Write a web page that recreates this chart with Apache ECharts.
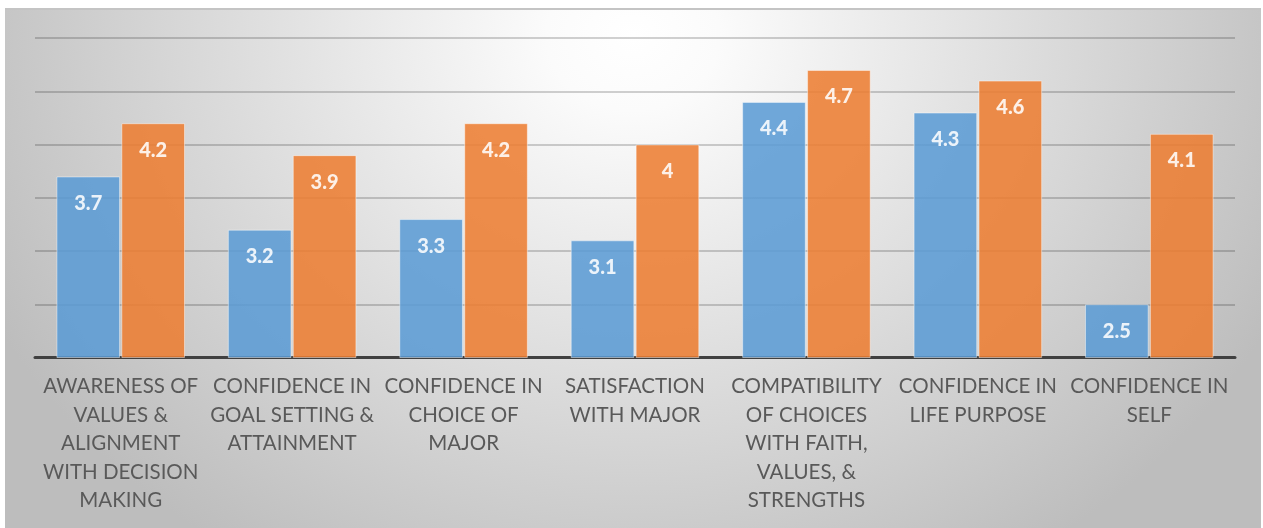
<!DOCTYPE html>
<html>
<head>
<meta charset="utf-8">
<script src="https://cdn.jsdelivr.net/npm/echarts@6/dist/echarts.min.js"></script>
<style>
  html, body { margin: 0; padding: 0; background: #ffffff; width: 1263px; height: 528px; overflow: hidden; }
  #frame { position: absolute; left: 5px; top: 8px; width: 1256px; height: 520px;
    border-top: 2px solid #c4c4c4; box-sizing: border-box;
    background: radial-gradient(ellipse 720px 620px at 50% 5%, #ffffff 0%, #fbfbfb 12%, #bdbdbd 100%); }
  #chart { position: absolute; left: 0; top: 0; width: 1263px; height: 528px; }
</style>
</head>
<body>
<div id="frame"></div>
<div id="chart"></div>
<script>
const categories = [
  "AWARENESS OF\nVALUES &\nALIGNMENT\nWITH DECISION\nMAKING",
  "CONFIDENCE IN\nGOAL SETTING &\nATTAINMENT",
  "CONFIDENCE IN\nCHOICE OF\nMAJOR",
  "SATISFACTION\nWITH MAJOR",
  "COMPATIBILITY\nOF CHOICES\nWITH FAITH,\nVALUES, &\nSTRENGTHS",
  "CONFIDENCE IN\nLIFE PURPOSE",
  "CONFIDENCE IN\nSELF"
];
const seriesBlue = [3.7, 3.2, 3.3, 3.1, 4.4, 4.3, 2.5];
const seriesOrange = [4.2, 3.9, 4.2, 4.0, 4.7, 4.6, 4.1];

const chart = echarts.init(document.getElementById('chart'), null, { renderer: 'canvas' });

const labelStyle = {
  show: true,
  position: 'insideTop',
  distance: 17,
  color: '#ffffff',
  fontFamily: 'Lato',
  fontWeight: 900,
  fontSize: 20
};

chart.setOption({
  backgroundColor: 'transparent',
  animation: false,
  grid: { left: 35, right: 28, top: 38, bottom: 170.5, containLabel: false },
  xAxis: {
    type: 'category',
    data: categories,
    axisLine: { show: true, lineStyle: { color: '#404040', width: 3 } },
    axisTick: { show: false },
    axisLabel: {
      interval: 0,
      margin: 15,
      color: '#595959',
      fontFamily: 'Lato',
      fontSize: 20.5,
      lineHeight: 28.5,
      align: 'center'
    }
  },
  yAxis: {
    type: 'value',
    min: 2,
    max: 5,
    interval: 0.5,
    axisLine: { show: false },
    axisTick: { show: false },
    axisLabel: { show: false },
    splitLine: { show: true, lineStyle: { color: 'rgba(0,0,0,0.18)', width: 2 } }
  },
  series: [
    {
      type: 'bar',
      data: seriesBlue,
      barCategoryGap: '25%',
      barGap: '2%',
      itemStyle: { color: '#5B9BD5', opacity: 0.87, borderColor: 'rgba(255,255,255,0.5)', borderWidth: 1 },
      label: labelStyle
    },
    {
      type: 'bar',
      data: seriesOrange,
      barCategoryGap: '25%',
      barGap: '2%',
      itemStyle: { color: '#ED7D31', opacity: 0.87, borderColor: 'rgba(255,255,255,0.5)', borderWidth: 1 },
      label: labelStyle
    }
  ]
});
</script>
</body>
</html>
